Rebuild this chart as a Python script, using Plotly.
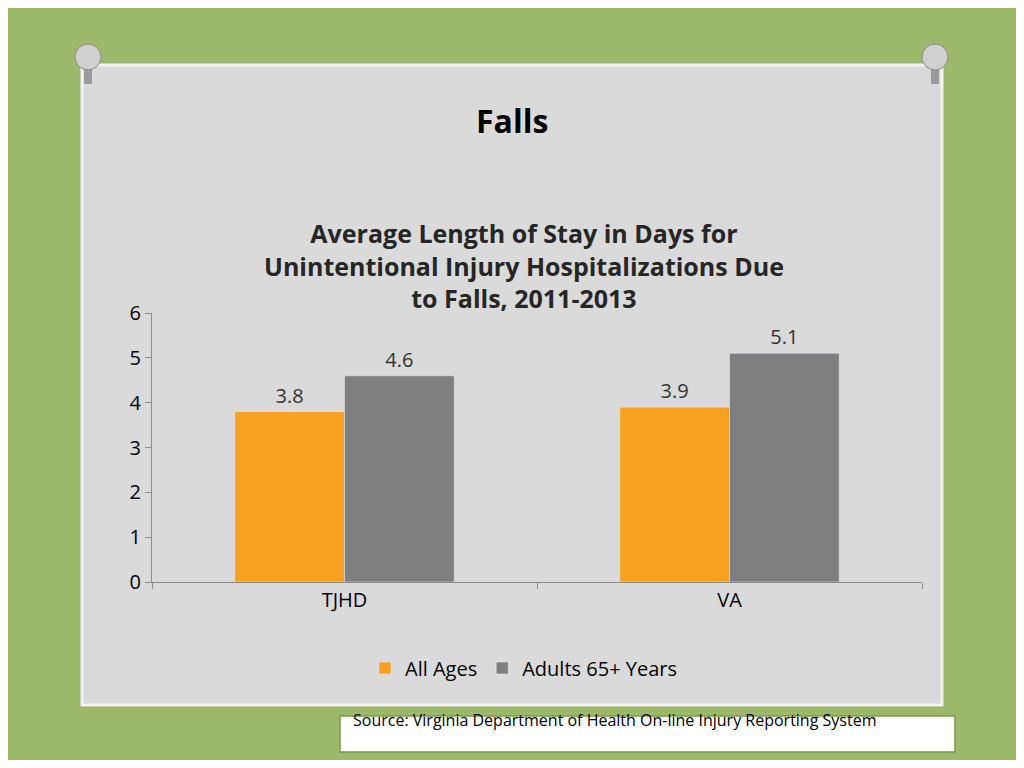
import plotly.graph_objects as go

categories = ["TJHD", "VA"]
all_ages = [3.8, 3.9]
adults_65 = [4.6, 5.1]
y_ticks = [0, 1, 2, 3, 4, 5, 6]

# page body has an 8px margin, so the figure is a bit smaller and positions are offset
OFF = 8
W, H = 1024 - 2 * OFF, 768 - 2 * OFF
px = lambda x: (x - OFF) / W
py_ = lambda y: 1 - (y - OFF) / H

fig = go.Figure()
fig.add_trace(go.Bar(x=categories, y=all_ages, name="All Ages", marker_color="#f7a021",
                     text=[f"{v:.1f}" for v in all_ages], textposition="outside",
                     textfont=dict(size=20, color="#333333"), cliponaxis=False))
fig.add_trace(go.Bar(x=categories, y=adults_65, name="Adults 65+ Years", marker_color="#7f7f7f",
                     text=[f"{v:.1f}" for v in adults_65], textposition="outside",
                     textfont=dict(size=20, color="#333333"), cliponaxis=False))

shapes = [
    # gray slide panel
    dict(type="rect", xref="paper", yref="paper", x0=px(82), x1=px(942), y0=py_(705), y1=py_(65),
         fillcolor="#dadada", line=dict(color="#f2f2f2", width=3), layer="below"),
    # source box
    dict(type="rect", xref="paper", yref="paper", x0=px(340), x1=px(955), y0=py_(752), y1=py_(716),
         fillcolor="#ffffff", line=dict(color="#7a9a45", width=1.5), layer="below"),
]
# pins
for cx, cy in [(88, 62), (935, 62)]:
    shapes.append(dict(type="rect", xref="paper", yref="paper",
                       x0=px(cx - 4), x1=px(cx + 4), y0=py_(cy + 22), y1=py_(cy + 6),
                       fillcolor="#9a9a9a", line=dict(width=0)))
    shapes.append(dict(type="circle", xref="paper", yref="paper",
                       x0=px(cx - 13), x1=px(cx + 13), y0=py_(cy + 8), y1=py_(cy - 18),
                       fillcolor="#d0d0d0", line=dict(color="#8a8a8a", width=1)))

fig.update_layout(
    width=W, height=H, autosize=False,
    margin=dict(l=0, r=0, t=0, b=0, pad=0, autoexpand=False),
    paper_bgcolor="#9bb86b", plot_bgcolor="rgba(0,0,0,0)",
    font=dict(family="Open Sans", color="#000000"),
    barmode="group", bargap=0.43, bargroupgap=0,
    shapes=shapes,
    xaxis=dict(domain=[px(152), px(922)], showline=True, linecolor="#8c8c8c",
               ticks="outside", tickson="boundaries", ticklen=6, tickcolor="#8c8c8c",
               tickfont=dict(size=20)),
    yaxis=dict(domain=[py_(582), py_(313)], range=[0, 6], tickvals=y_ticks,
               showline=True, linecolor="#8c8c8c", ticks="outside", ticklen=6,
               tickcolor="#8c8c8c", showgrid=False, zeroline=False, tickfont=dict(size=20)),
    legend=dict(orientation="h", x=px(524), xanchor="center", y=py_(668), yanchor="middle",
                font=dict(size=20), bgcolor="rgba(0,0,0,0)"),
    annotations=[
        dict(text="<b>Falls</b>", x=px(512), y=py_(97), xref="paper", yref="paper",
             showarrow=False, font=dict(size=32)),
        dict(text="<b>Average Length of Stay in Days for<br>Unintentional Injury Hospitalizations Due<br>to Falls, 2011-2013</b>",
             x=px(524), y=py_(214), xref="paper", yref="paper", showarrow=False,
             font=dict(size=25, color="#262626"), align="center"),
        dict(text="Source: Virginia Department of Health On-line Injury Reporting System",
             x=px(351), y=py_(733), xref="paper", yref="paper", xanchor="left",
             showarrow=False, font=dict(size=16)),
    ],
)

fig.write_html("out.html")
